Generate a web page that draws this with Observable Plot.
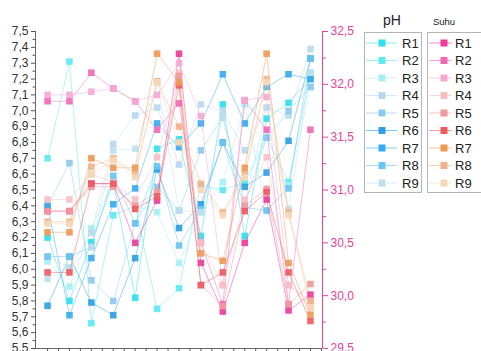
<!DOCTYPE html>
<html>
<head>
<meta charset="utf-8">
<script src="https://cdn.jsdelivr.net/npm/d3@7"></script>
<script src="https://cdn.jsdelivr.net/npm/@observablehq/plot@0.6"></script>
<style>
  html, body { margin: 0; padding: 0; background: #fff; }
  #wrap { position: relative; width: 481px; height: 351px; overflow: hidden; background: #fff; font-family: "Liberation Sans", Arial, sans-serif; }
  #wrap > svg { position: absolute; left: 0; top: 0; }
</style>
</head>
<body>
<div id="wrap"></div>
<script>
// x categories (sampling points)
const xs = [1, 2, 3, 4, 5, 6, 7, 8, 9, 10, 11, 12, 13];
const seriesNames = ["R1", "R2", "R3", "R4", "R5", "R6", "R7", "R8", "R9"];

// pH values (left axis)
const phR1 = [6.20, 5.80, 6.17, 6.55, 5.82, 6.76, 6.82, 6.21, 7.04, 6.21, 6.95, 7.05, 7.20];
const phR2 = [6.70, 7.31, 5.66, 6.34, 6.40, 5.75, 5.88, 6.53, 6.50, 6.55, 6.83, 6.55, 7.24];
const phR3 = [6.05, 5.89, 6.26, 6.55, 6.40, 6.36, 6.04, 6.36, 6.55, 7.04, 6.37, 6.53, 7.15];
const phR4 = [6.08, 6.01, 6.23, 6.79, 6.97, 7.02, 6.66, 7.04, 7.00, 6.75, 7.02, 6.97, 7.39];
const phR5 = [6.40, 6.67, 5.93, 5.80, 6.29, 6.52, 6.37, 6.75, 6.96, 6.41, 6.83, 7.00, 7.15];
const phR6 = [5.77, 6.08, 5.79, 5.71, 6.07, 6.63, 6.26, 6.41, 6.80, 6.52, 6.61, 6.81, 7.33];
const phR7 = [6.40, 5.71, 6.07, 6.41, 6.51, 6.92, 6.77, 6.92, 7.23, 6.92, 7.15, 7.23, 7.20];
const phR8 = [6.08, 6.08, 6.14, 6.59, 6.29, 6.65, 6.15, 6.38, 6.80, 6.39, 6.37, 6.51, 7.33];
const phR9 = [5.94, 6.01, 6.14, 6.75, 6.76, 7.18, 6.37, 6.36, 6.96, 6.41, 7.02, 6.38, 7.24];

// Suhu values (right axis, °C)
const suhuR1 = [30.80, 30.80, 31.06, 31.06, 30.50, 30.90, 32.29, 30.31, 29.85, 30.50, 30.91, 29.86, 30.01];
const suhuR2 = [31.84, 31.84, 32.11, 31.96, 31.84, 31.57, 31.82, 30.50, 29.92, 31.85, 31.57, 29.92, 31.57];
const suhuR3 = [31.90, 31.90, 31.93, 31.96, 31.84, 31.90, 32.20, 31.70, 30.10, 31.85, 31.88, 30.10, 29.95];
const suhuR4 = [30.91, 30.91, 31.15, 31.07, 30.91, 31.31, 32.11, 30.50, 30.10, 30.91, 31.31, 30.10, 29.89];
const suhuR5 = [30.80, 30.80, 31.03, 31.03, 30.85, 30.98, 32.08, 30.10, 29.90, 30.85, 31.01, 29.92, 30.11];
const suhuR6 = [30.22, 30.22, 31.06, 31.06, 30.82, 30.94, 31.99, 30.10, 30.22, 30.80, 30.98, 30.22, 29.76];
const suhuR7 = [30.60, 30.60, 31.30, 31.21, 31.21, 32.29, 32.02, 30.40, 30.33, 31.21, 32.29, 30.31, 29.82];
const suhuR8 = [30.70, 30.70, 31.22, 31.30, 31.15, 32.03, 31.60, 31.06, 30.79, 31.15, 32.05, 30.79, 29.95];
const suhuR9 = [30.68, 30.68, 31.15, 31.28, 31.12, 32.02, 31.45, 31.00, 30.76, 31.12, 32.02, 30.76, 29.89];

// axis ticks
const phTicks = d3.range(55, 76).map(d => d / 10);
const suhuTicks = [29.5, 30.0, 30.5, 31.0, 31.5, 32.0, 32.5];

// palettes
const phColors = ["#2fe0ee", "#5fe8f1", "#a6eff5", "#b9d8ee", "#8dcaf0", "#2e9fe4", "#3aaaee", "#6cc5f1", "#bfe0ef"];
const suhuColors = ["#ec3d9b", "#f06bb6", "#f6a8d1", "#f6bfc5", "#f19a9b", "#ef5a62", "#ee9a55", "#f2b38c", "#f7d8b6"];
const pink = "#e2449c";

const phSeries = [phR1, phR2, phR3, phR4, phR5, phR6, phR7, phR8, phR9];
const suhuSeries = [suhuR1, suhuR2, suhuR3, suhuR4, suhuR5, suhuR6, suhuR7, suhuR8, suhuR9];

// map suhu onto pH axis: 29.5..32.5 <-> 5.5..7.5
const toPH = t => 5.5 + (t - 29.5) / 1.5;
const toSuhu = v => 29.5 + (v - 5.5) * 1.5;
const fmt = d => (Math.round(d * 10) / 10).toFixed(1).replace(".", ",");

const phRows = phSeries.flatMap((arr, k) => arr.map((v, i) => ({x: xs[i], y: v, key: "pH " + seriesNames[k]})));
const suhuRows = suhuSeries.flatMap((arr, k) => arr.map((t, i) => ({x: xs[i], y: toPH(t), key: "Suhu " + seriesNames[k]})));

const keys = [...seriesNames.map(s => "pH " + s), ...seriesNames.map(s => "Suhu " + s)];
const colors = [...phColors, ...suhuColors];

const xDomain = [0.45, 13.55];

const chart = Plot.plot({
  width: 481,
  height: 351,
  marginLeft: 35,
  marginRight: 159,
  marginTop: 31,
  marginBottom: 3,
  x: {domain: xDomain, label: null},
  y: {domain: [5.5, 7.5], label: null},
  color: {domain: keys, range: colors},
  style: {fontFamily: "'Liberation Sans', Arial, sans-serif", fontSize: "12px", color: "#333", background: "transparent", overflow: "visible"},
  marks: [
    Plot.axisY({ticks: phTicks, tickSize: 4, tickPadding: 3, tickFormat: fmt, fontSize: 12, label: null, stroke: "#555", fill: "#333"}),
    Plot.axisY({ticks: phTicks.slice(0, -1).map(d => d + 0.05), tickSize: 2.5, tickFormat: () => "", label: null, stroke: "#555"}),
    Plot.axisY({anchor: "right", ticks: suhuTicks.map(toPH), tickSize: 5, tickPadding: 3, tickFormat: v => fmt(toSuhu(v)), fontSize: 12, label: null, color: pink, stroke: pink, fill: pink}),
    Plot.axisY({anchor: "right", ticks: suhuTicks.slice(0, -1).map(t => toPH(t + 0.25)), tickSize: 3, tickFormat: () => "", label: null, color: pink, stroke: pink}),
    Plot.axisX({ticks: xs, tickSize: 5, tickFormat: () => "", label: null, stroke: "#555"}),
    Plot.axisX({ticks: xs.map(d => d + 0.5), tickSize: 3, tickFormat: () => "", label: null, stroke: "#555"}),
    Plot.ruleX([xDomain[0]], {stroke: "#666"}),
    Plot.ruleX([xDomain[1]], {stroke: pink}),
    Plot.ruleY([5.5], {stroke: "#666"}),
    Plot.line(phRows, {x: "x", y: "y", z: "key", stroke: "key", strokeWidth: 0.9, strokeOpacity: 0.55}),
    Plot.dot(phRows, {x: "x", y: "y", fill: "key", symbol: "square", r: 3.7, fillOpacity: 0.92}),
    Plot.line(suhuRows, {x: "x", y: "y", z: "key", stroke: "key", strokeWidth: 0.9, strokeOpacity: 0.55}),
    Plot.dot(suhuRows, {x: "x", y: "y", fill: "key", symbol: "square", r: 3.7, fillOpacity: 0.92})
  ]
});

const wrap = document.getElementById("wrap");
wrap.appendChild(chart);

// Legend (drawn with d3 in an overlay svg)
const leg = d3.select(wrap).append("svg")
  .attr("width", 481).attr("height", 351)
  .style("position", "absolute").style("left", "0px").style("top", "0px")
  .style("font-family", "'Liberation Sans', Arial, sans-serif");

leg.append("text").attr("x", 392).attr("y", 25).attr("text-anchor", "middle")
  .attr("font-size", 14).attr("fill", "#222").text("pH");
leg.append("text").attr("x", 444).attr("y", 25).attr("text-anchor", "middle")
  .attr("font-size", 9.5).attr("fill", "#222").text("Suhu");

const groups = [
  {x0: 364, w: 57, lineX1: 366, lineX2: 397, mx: 382, tx: 402, cols: phColors},
  {x0: 427, w: 62, lineX1: 429, lineX2: 452, mx: 444, tx: 455, cols: suhuColors}
];
groups.forEach(g => {
  leg.append("rect").attr("x", g.x0 + 0.5).attr("y", 32.5).attr("width", g.w).attr("height", 160)
    .attr("fill", "none").attr("stroke", "#b5b5b5").attr("stroke-width", 1);
  seriesNames.forEach((name, i) => {
    const cy = 43 + i * 17.5;
    leg.append("line").attr("x1", g.lineX1).attr("x2", g.lineX2).attr("y1", cy).attr("y2", cy)
      .attr("stroke", g.cols[i]).attr("stroke-opacity", 0.6).attr("stroke-width", 1);
    leg.append("rect").attr("x", g.mx - 3.5).attr("y", cy - 3.5).attr("width", 7).attr("height", 7)
      .attr("fill", g.cols[i]);
    leg.append("text").attr("x", g.tx).attr("y", cy + 4.7).attr("font-size", 13).attr("fill", "#222").text(name);
  });
});
</script>
</body>
</html>
